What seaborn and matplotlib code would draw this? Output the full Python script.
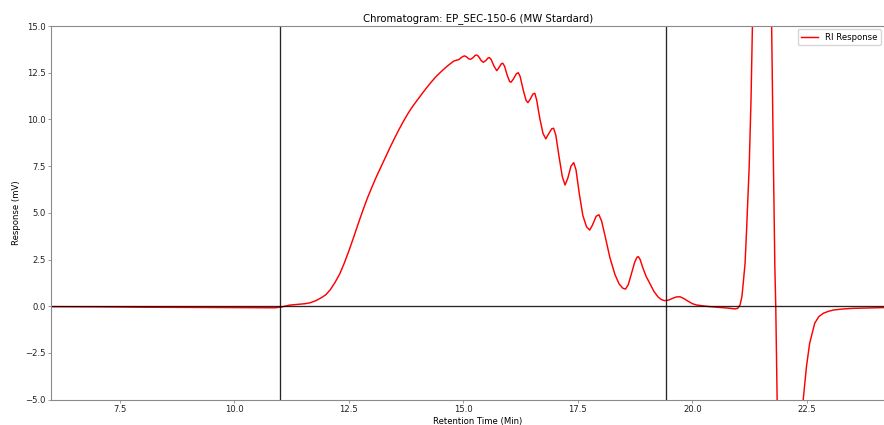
import matplotlib
matplotlib.use("Agg")
import matplotlib.pyplot as plt
import seaborn as sns
import pandas as pd

retention_time = [
    6.0, 7.0, 8.0, 9.0, 10.0, 10.9, 11.05, 11.2, 11.37, 11.55, 11.66, 11.78, 11.88,
    12.0, 12.1, 12.2, 12.3, 12.4, 12.5, 12.6, 12.7, 12.8, 12.9, 13.0, 13.1, 13.2,
    13.3, 13.4, 13.5, 13.6, 13.7, 13.8, 13.9, 14.0, 14.1, 14.2, 14.3, 14.4, 14.5,
    14.6, 14.7, 14.79, 14.85, 14.90, 14.95, 15.00, 15.03, 15.07, 15.12, 15.16, 15.21,
    15.26, 15.29, 15.33, 15.39, 15.44, 15.49, 15.54, 15.57, 15.61, 15.67, 15.73, 15.78,
    15.83, 15.86, 15.90, 15.96, 16.01, 16.04, 16.09, 16.16, 16.20, 16.24, 16.31, 16.37,
    16.41, 16.46, 16.52, 16.56, 16.60, 16.67, 16.74, 16.80, 16.86, 16.93, 16.97, 17.02,
    17.09, 17.16, 17.22, 17.28, 17.35, 17.41, 17.46, 17.53, 17.61, 17.69, 17.76, 17.82,
    17.90, 17.96, 18.02, 18.10, 18.20, 18.31, 18.40, 18.48, 18.54, 18.60, 18.67, 18.74,
    18.79, 18.82, 18.86, 18.92, 18.99, 19.07, 19.16, 19.25, 19.33, 19.40, 19.48, 19.56,
    19.65, 19.73, 19.81, 19.90, 20.00, 20.09, 20.30, 20.53, 20.75, 20.93, 20.99, 21.04,
    21.08, 21.11, 21.15, 21.18, 21.24, 21.28, 21.31, 21.35, 21.50, 21.68, 21.73, 21.76,
    21.80, 21.82, 21.85, 21.95, 22.20, 22.38, 22.42, 22.49, 22.56, 22.67, 22.76, 22.86,
    22.97, 23.08, 23.30, 23.51, 23.80, 24.17, 24.6,
]
ri_response = [
    -0.02, -0.03, -0.05, -0.06, -0.07, -0.08, -0.03, 0.06, 0.10, 0.14, 0.19, 0.30, 0.43,
    0.62, 0.90, 1.28, 1.72, 2.30, 2.95, 3.65, 4.38, 5.08, 5.75, 6.35, 6.92, 7.45,
    7.97, 8.50, 9.00, 9.48, 9.93, 10.35, 10.72, 11.05, 11.38, 11.70, 12.00, 12.28, 12.52,
    12.75, 12.95, 13.12, 13.17, 13.20, 13.30, 13.38, 13.40, 13.35, 13.24, 13.22, 13.30,
    13.43, 13.45, 13.38, 13.15, 13.06, 13.15, 13.29, 13.31, 13.20, 12.85, 12.61, 12.78,
    12.98, 13.01, 12.85, 12.35, 12.03, 11.99, 12.15, 12.45, 12.50, 12.30, 11.55, 11.02,
    10.90, 11.08, 11.36, 11.40, 11.05, 10.05, 9.25, 8.96, 9.22, 9.50, 9.53, 9.15,
    8.00, 6.95, 6.49, 6.85, 7.50, 7.69, 7.30, 6.05, 4.85, 4.25, 4.08, 4.35,
    4.82, 4.90, 4.55, 3.70, 2.60, 1.70, 1.20, 0.97, 0.92, 1.15, 1.75, 2.35,
    2.62, 2.66, 2.50, 2.05, 1.60, 1.23, 0.80, 0.50, 0.35, 0.30, 0.33, 0.42,
    0.50, 0.51, 0.42, 0.28, 0.14, 0.07, 0.00, -0.05, -0.09, -0.14, -0.11, 0.07,
    0.50, 1.23, 2.30, 3.91, 7.47, 11.04, 15.0, 20.0, 40.0, 20.0, 15.0, 9.26,
    2.12, 0.0, -5.0, -12.0, -12.0, -7.0, -4.98, -3.23, -1.98, -0.91, -0.55, -0.37,
    -0.27, -0.20, -0.14, -0.11, -0.09, -0.07, -0.06,
]
marker_lines = [11.0, 19.42]
title = "Chromatogram: EP_SEC-150-6 (MW Stardard)"
x_label = "Retention Time (Min)"
y_label = "Response (mV)"
series_label = "RI Response"

df = pd.DataFrame({"t": retention_time, "r": ri_response})

plt.rcParams.update({
    "font.size": 6.1,
    "axes.edgecolor": "#8a8a8a",
    "axes.linewidth": 0.8,
    "xtick.color": "#8a8a8a",
    "ytick.color": "#8a8a8a",
    "xtick.labelcolor": "#222222",
    "ytick.labelcolor": "#222222",
    "xtick.major.size": 2.0,
    "ytick.major.size": 2.0,
    "xtick.major.width": 0.6,
    "ytick.major.width": 0.6,
})

fig = plt.figure(figsize=(8.84, 4.25), dpi=100)
ax_top = 0.9388
ax = fig.add_axes([0.0577, 0.0595, 0.966, ax_top - 0.0595])

sns.lineplot(data=df, x="t", y="r", color="red", linewidth=1.05, label=series_label,
             ax=ax, sort=False, estimator=None)
for xv in marker_lines:
    ax.axvline(xv, color="black", linewidth=0.95, alpha=0.85)
ax.axhline(0, color="black", linewidth=0.95, alpha=0.85)

ax.set_xlim(6, 24.64)
ax.set_ylim(-5, 15)
ax.set_xticks([7.5, 10.0, 12.5, 15.0, 17.5, 20.0, 22.5])
ax.set_yticks([-5.0, -2.5, 0.0, 2.5, 5.0, 7.5, 10.0, 12.5, 15.0])
ax.set_title(title, fontsize=7.3, pad=3.5)
ax.set_xlabel(x_label, fontsize=6.1, labelpad=2)
ax.set_ylabel(y_label, fontsize=6.1, labelpad=3)
ax.tick_params(labelsize=6.1, pad=2)
ax.legend(loc="upper right", bbox_to_anchor=(1.0, ax_top), bbox_transform=fig.transFigure,
          fontsize=6.1, frameon=True, borderaxespad=0.4)

fig.savefig("out.png", dpi=100)
